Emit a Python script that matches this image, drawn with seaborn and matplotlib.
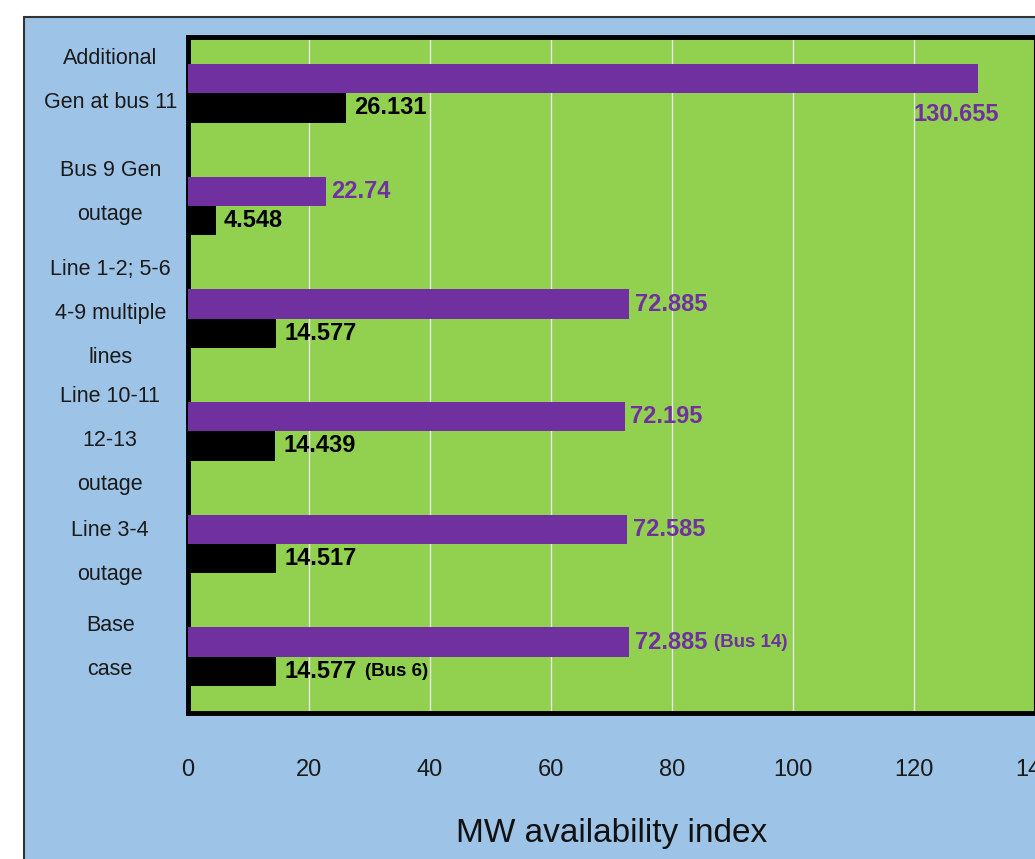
import pandas as pd
import matplotlib.pyplot as plt
import matplotlib.transforms as mtrans
import seaborn as sns
from matplotlib.patches import Rectangle

# Cases, top to bottom
cases = ['Additional\nGen at bus 11', 'Bus 9 Gen\noutage',
         'Line 1-2; 5-6\n4-9 multiple\nlines', 'Line 10-11\n12-13\noutage',
         'Line 3-4\noutage', 'Base\ncase']
series = ['max', 'min']
max_vals = [130.655, 22.74, 72.885, 72.195, 72.585, 72.885]
min_vals = [26.131, 4.548, 14.577, 14.439, 14.517, 14.577]
max_labels = ['130.655', '22.74', '72.885', '72.195', '72.585', '72.885']
min_labels = ['26.131', '4.548', '14.577', '14.439', '14.517', '14.577']
base_notes = ['(Bus 14)', '(Bus 6)']
xticks = [0, 20, 40, 60, 80, 100, 120, 140]

purple = '#7030A0'
green = '#92D050'
blue = '#9DC3E6'

df = pd.DataFrame({
    'case': cases * 2,
    'series': [series[0]] * len(cases) + [series[1]] * len(cases),
    'value': max_vals + min_vals,
})

sns.set_style('white')
plt.rcParams['font.family'] = ['Liberation Sans', 'DejaVu Sans']

fig = plt.figure(figsize=(10.35, 8.59), dpi=100)
fig.patch.set_facecolor('white')
# blue chart area with a dark frame, running off the right and bottom edges
fig.patches.append(Rectangle((24 / 1035, -0.05), 1.1, 1.05 - 17 / 859,
                             transform=fig.transFigure, facecolor=blue,
                             edgecolor='#333333', linewidth=1.5, zorder=-5))

ax = fig.add_axes([188 / 1035, 1 - 713 / 859, 1 - 188 / 1035, (713 - 37) / 859])
ax.set_zorder(2)
ax.set_facecolor(green)

sns.barplot(data=df, y='case', x='value', hue='series', order=cases,
            hue_order=series, palette=[purple, 'black'], width=0.52,
            saturation=1, orient='h', legend=False, ax=ax, zorder=3,
            linewidth=0)

ax.set_xlim(0, 140)
ax.set_xticks(xticks)
ax.grid(axis='x', color='#e6e6e6', linewidth=1, zorder=0)
ax.grid(axis='y', visible=False)
ax.set_axisbelow(True)
for s in ax.spines.values():
    s.set_color('black')
    s.set_linewidth(3.5)
ax.spines['right'].set_linewidth(1.5)

ax.tick_params(axis='x', length=0, pad=33, labelsize=17, labelcolor='#1a1a1a')
ax.tick_params(axis='y', length=0, pad=56, labelsize=15.5, labelcolor='#1a1a1a')
# the category labels sit a little off the group centres in the original
label_shift_px = [27, 28, 19, 5, 6, 23]
for lab, dy in zip(ax.get_yticklabels(), label_shift_px):
    lab.set_ha('center')
    lab.set_linespacing(2.45)
    lab.set_transform(lab.get_transform() +
                      mtrans.ScaledTranslation(0, dy / 100, fig.dpi_scale_trans))
ax.set_ylabel('')
ax.set_xlabel('MW availability index', fontsize=24, labelpad=27, color='#111111')

# value labels
purple_bars, black_bars = ax.containers[0], ax.containers[1]
last = len(cases) - 1
for i, (p, txt) in enumerate(zip(purple_bars, max_labels)):
    y = p.get_y() + p.get_height() / 2
    if i == 0:
        t = ax.annotate(txt, (p.get_width(), y), xytext=(15, -26),
                        textcoords='offset points', ha='right', va='center',
                        fontsize=17, fontweight='bold', color=purple)
    else:
        t = ax.annotate(txt, (p.get_width(), y), xytext=(4, 0),
                        textcoords='offset points', ha='left', va='center',
                        fontsize=17, fontweight='bold', color=purple)
    if i == last:
        ax.annotate(base_notes[0], (1, 0.5), xycoords=t, xytext=(5, 0),
                    textcoords='offset points', ha='left', va='center',
                    fontsize=13.5, fontweight='bold', color=purple)
for i, (p, txt) in enumerate(zip(black_bars, min_labels)):
    y = p.get_y() + p.get_height() / 2
    t = ax.annotate(txt, (p.get_width(), y), xytext=(6, 0),
                    textcoords='offset points', ha='left', va='center',
                    fontsize=17, fontweight='bold', color='black')
    if i == last:
        ax.annotate(base_notes[1], (1, 0.5), xycoords=t, xytext=(6, 0),
                    textcoords='offset points', ha='left', va='center',
                    fontsize=13.5, fontweight='bold', color='black')

fig.savefig('out.png', dpi=100)
